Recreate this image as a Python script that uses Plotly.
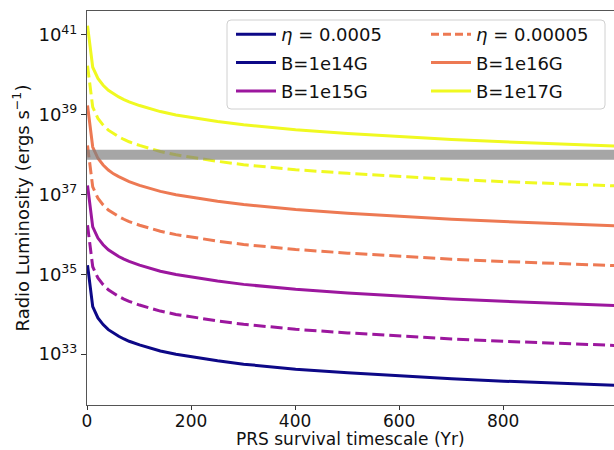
import plotly.graph_objects as go

# PRS survival timescale (yr) sample points
t_yr = [1, 11, 21, 31, 41, 51, 61, 71, 81, 101, 121, 141, 171, 201, 251, 301,
        351, 401, 501, 601, 701, 801, 901, 1001, 1101]

# Radio luminosity (erg/s), eta = 0.0005 (solid)
L_B14_eta5e4 = [1.7e35, 1.55e34, 8.1e33, 5.5e33, 4.1e33, 3.3e33, 2.8e33, 2.4e33, 2.1e33,
                1.7e33, 1.4e33, 1.2e33, 9.9e32, 8.5e32, 6.8e32, 5.6e32, 4.8e32, 4.2e32,
                3.4e32, 2.8e32, 2.4e32, 2.1e32, 1.9e32, 1.7e32, 1.5e32]
L_B15_eta5e4 = [1.7e37, 1.55e36, 8.1e35, 5.5e35, 4.1e35, 3.3e35, 2.8e35, 2.4e35, 2.1e35,
                1.7e35, 1.4e35, 1.2e35, 9.9e34, 8.5e34, 6.8e34, 5.6e34, 4.8e34, 4.2e34,
                3.4e34, 2.8e34, 2.4e34, 2.1e34, 1.9e34, 1.7e34, 1.5e34]
L_B16_eta5e4 = [1.7e39, 1.55e38, 8.1e37, 5.5e37, 4.1e37, 3.3e37, 2.8e37, 2.4e37, 2.1e37,
                1.7e37, 1.4e37, 1.2e37, 9.9e36, 8.5e36, 6.8e36, 5.6e36, 4.8e36, 4.2e36,
                3.4e36, 2.8e36, 2.4e36, 2.1e36, 1.9e36, 1.7e36, 1.5e36]
L_B17_eta5e4 = [1.7e41, 1.55e40, 8.1e39, 5.5e39, 4.1e39, 3.3e39, 2.8e39, 2.4e39, 2.1e39,
                1.7e39, 1.4e39, 1.2e39, 9.9e38, 8.5e38, 6.8e38, 5.6e38, 4.8e38, 4.2e38,
                3.4e38, 2.8e38, 2.4e38, 2.1e38, 1.9e38, 1.7e38, 1.5e38]

# Radio luminosity (erg/s), eta = 0.00005 (dashed)
L_B15_eta5e5 = [1.7e36, 1.55e35, 8.1e34, 5.5e34, 4.1e34, 3.3e34, 2.8e34, 2.4e34, 2.1e34,
                1.7e34, 1.4e34, 1.2e34, 9.9e33, 8.5e33, 6.8e33, 5.6e33, 4.8e33, 4.2e33,
                3.4e33, 2.8e33, 2.4e33, 2.1e33, 1.9e33, 1.7e33, 1.5e33]
L_B16_eta5e5 = [1.7e38, 1.55e37, 8.1e36, 5.5e36, 4.1e36, 3.3e36, 2.8e36, 2.4e36, 2.1e36,
                1.7e36, 1.4e36, 1.2e36, 9.9e35, 8.5e35, 6.8e35, 5.6e35, 4.8e35, 4.2e35,
                3.4e35, 2.8e35, 2.4e35, 2.1e35, 1.9e35, 1.7e35, 1.5e35]
L_B17_eta5e5 = [1.7e40, 1.55e39, 8.1e38, 5.5e38, 4.1e38, 3.3e38, 2.8e38, 2.4e38, 2.1e38,
                1.7e38, 1.4e38, 1.2e38, 9.9e37, 8.5e37, 6.8e37, 5.6e37, 4.8e37, 4.2e37,
                3.4e37, 2.8e37, 2.4e37, 2.1e37, 1.9e37, 1.7e37, 1.5e37]

# Horizontal reference luminosity
L_limit = 1e38

y_tickvals = [1e33, 1e35, 1e37, 1e39, 1e41]
y_ticktext = ["10<sup>33</sup>", "10<sup>35</sup>", "10<sup>37</sup>",
              "10<sup>39</sup>", "10<sup>41</sup>"]
x_tickvals = [0, 200, 400, 600, 800]
x_title = "PRS survival timescale (Yr)"
y_title = "Radio Luminosity (ergs s<sup>−1</sup>)"

C14, C15, C16, C17 = "#0d0887", "#9c179e", "#ed7953", "#f0f921"
FONT = "DejaVu Sans"
LW = 3
DASH = "12px,5px"

fig = go.Figure()

# legend-only style keys
fig.add_trace(go.Scatter(x=[None], y=[None], mode="lines", name="<i>η</i> = 0.0005",
                         line=dict(color=C14, width=LW), legend="legend",
                         legendgroup="a"))
fig.add_trace(go.Scatter(x=[None], y=[None], mode="lines", name="<i>η</i> = 0.00005",
                         line=dict(color=C16, width=LW, dash="8px,4px"), legend="legend2",
                         legendgroup="d"))

fig.add_trace(go.Scatter(x=t_yr, y=L_B14_eta5e4, mode="lines", name="B=1e14G",
                         line=dict(color=C14, width=LW), legend="legend", legendgroup="b"))
fig.add_trace(go.Scatter(x=t_yr, y=L_B15_eta5e4, mode="lines", name="B=1e15G",
                         line=dict(color=C15, width=LW), legend="legend", legendgroup="c"))
fig.add_trace(go.Scatter(x=t_yr, y=L_B16_eta5e4, mode="lines", name="B=1e16G",
                         line=dict(color=C16, width=LW), legend="legend2", legendgroup="e"))
fig.add_trace(go.Scatter(x=t_yr, y=L_B17_eta5e4, mode="lines", name="B=1e17G",
                         line=dict(color=C17, width=LW), legend="legend2", legendgroup="f"))

for ys, c in [(L_B15_eta5e5, C15), (L_B16_eta5e5, C16), (L_B17_eta5e5, C17)]:
    fig.add_trace(go.Scatter(x=t_yr, y=ys, mode="lines", showlegend=False,
                             line=dict(color=c, width=LW, dash=DASH)))

fig.add_hline(y=L_limit, line_width=10, line_color="rgba(128,128,128,0.7)", layer="above")

W, H = 614, 450
ML, MR, MT, MB = 87, 0, 11, 45
PW, PH = W - ML - MR, H - MT - MB


def px2paper(px, py):
    return (px - ML) / PW, (H - MB - py) / PH


# rounded legend frame
x0, y1 = px2paper(227, 20)
x1, y0 = px2paper(605, 109)
rx, ry = 4 / PW, 4 / PH
path = (f"M{x0+rx},{y0} L{x1-rx},{y0} Q{x1},{y0} {x1},{y0+ry} "
        f"L{x1},{y1-ry} Q{x1},{y1} {x1-rx},{y1} L{x0+rx},{y1} "
        f"Q{x0},{y1} {x0},{y1-ry} L{x0},{y0+ry} Q{x0},{y0} {x0+rx},{y0} Z")
fig.add_shape(type="path", path=path, xref="paper", yref="paper",
              line=dict(color="#d0d0d0", width=1), fillcolor="rgba(255,255,255,0.8)",
              layer="above")

lx1, ly = px2paper(231, 16)
lx2, _ = px2paper(426, 16)
leg_common = dict(font=dict(family=FONT, size=18, color="#111"), bgcolor="rgba(0,0,0,0)",
                  borderwidth=0, xanchor="left", yanchor="top", tracegroupgap=2,
                  itemwidth=40)
fig.update_layout(
    legend=dict(x=lx1, y=ly, **leg_common),
    legend2=dict(x=lx2, y=ly, **leg_common),
)

axis_common = dict(showline=True, linecolor="#555", linewidth=1, ticks="outside",
                   tickcolor="#333", showgrid=False, zeroline=False, automargin=False)

fig.update_xaxes(range=[0, 1013], tickvals=x_tickvals, mirror=True, ticklen=4,
                 ticklabelstandoff=-3,
                 tickfont=dict(family=FONT, size=17, color="#111"), **axis_common)
fig.update_yaxes(type="log", range=[31.725, 41.6], tickvals=y_tickvals, ticklen=5,
                 ticktext=y_ticktext, title_text=y_title,
                 tickfont=dict(family=FONT, size=18, color="#111"),
                 title_standoff=4, title_font=dict(family=FONT, size=18, color="#111"),
                 **axis_common)

# x-axis title, placed at the bottom edge of the figure
fig.add_annotation(text=x_title, xref="paper", yref="paper", x=0.5, y=-MB / PH,
                   xanchor="center", yanchor="bottom", showarrow=False, borderpad=0,
                   font=dict(family=FONT, size=17, color="#111"))

fig.update_layout(width=W, height=H, margin=dict(l=ML, r=MR, t=MT, b=MB),
                  plot_bgcolor="white", paper_bgcolor="white",
                  font=dict(family=FONT, color="#111"))

fig.write_html("out.html", config={"displayModeBar": False},
               post_script="document.body.style.margin='0';")
